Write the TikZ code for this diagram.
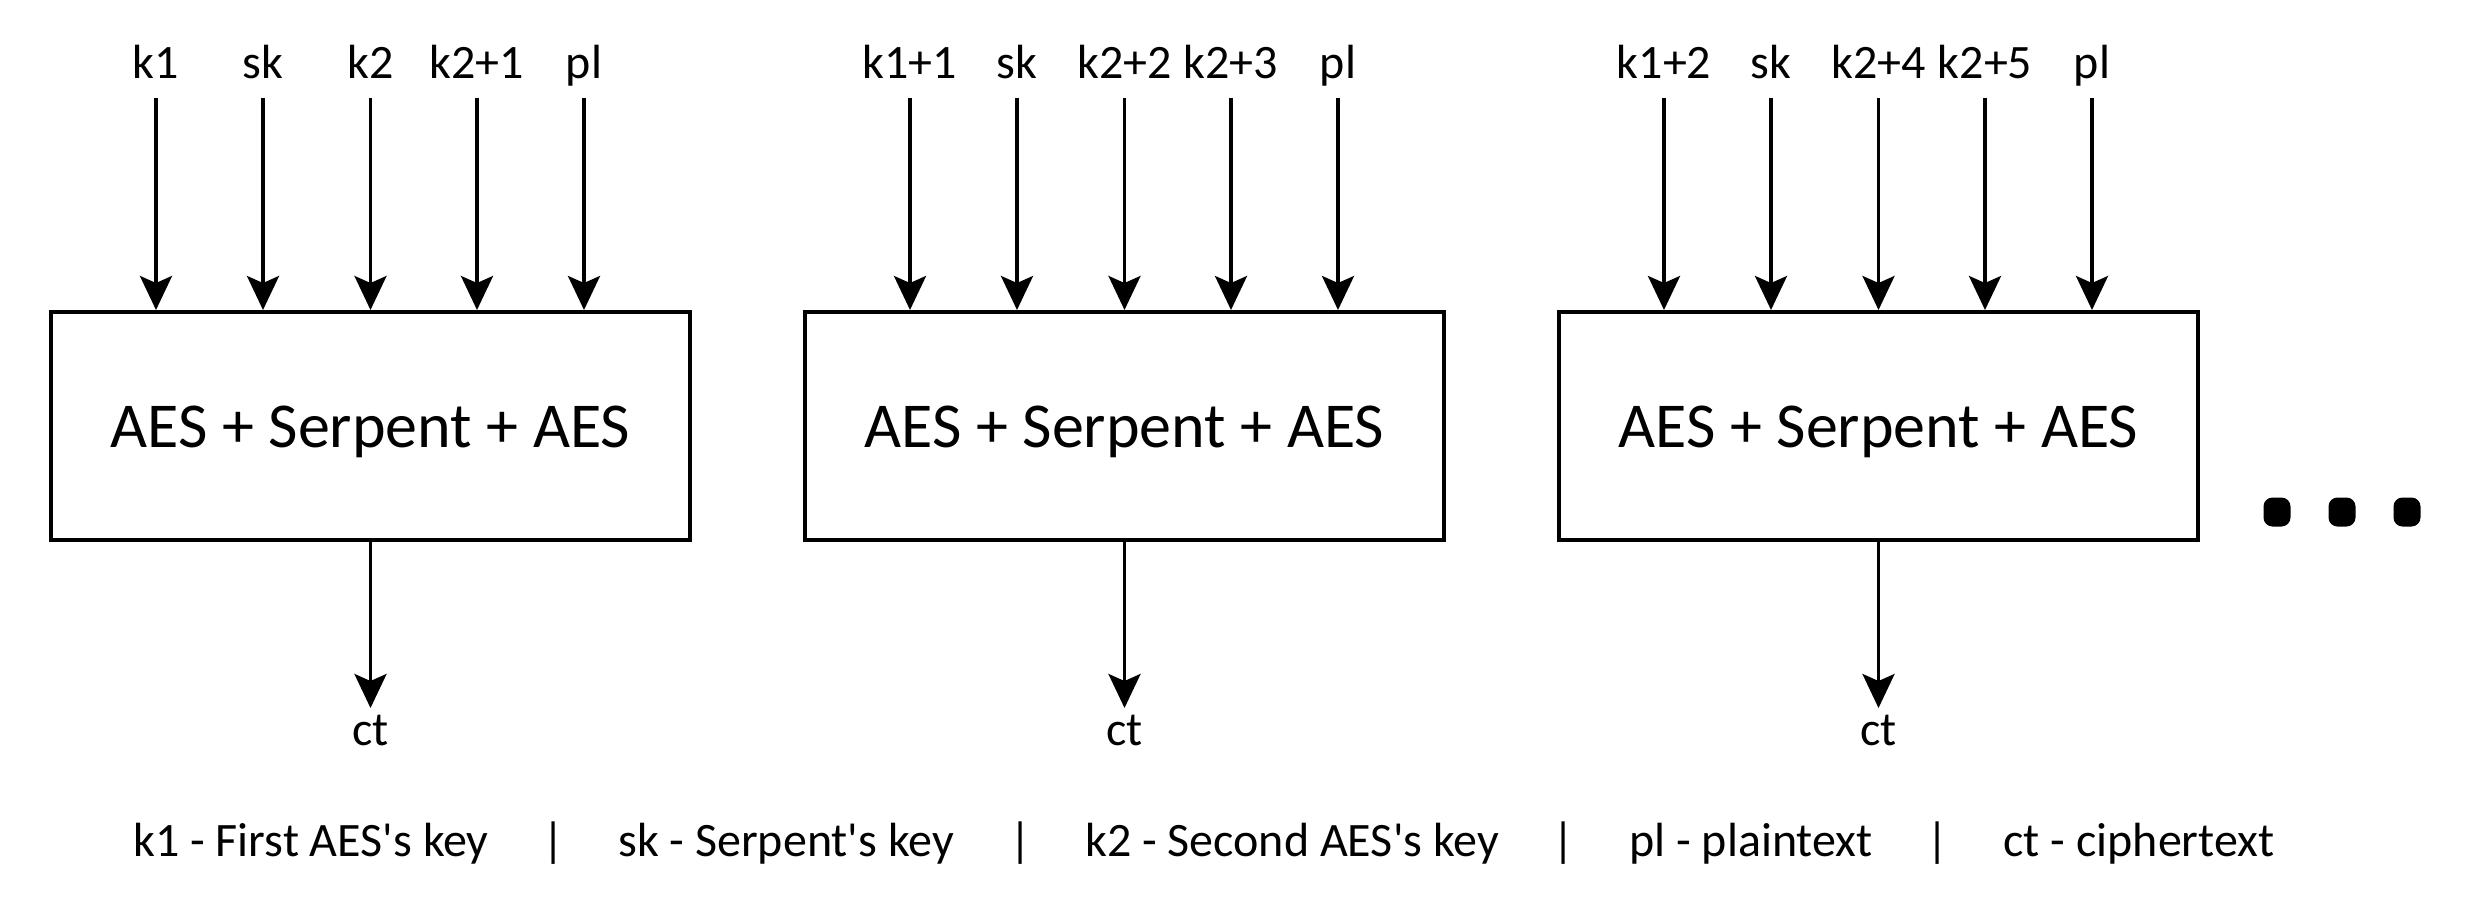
\documentclass[tikz,border=0pt]{standalone}
\usepackage{fontspec}
\setmainfont{Carlito}
\usetikzlibrary{arrows.meta}
\begin{document}
\begin{tikzpicture}[x=1pt,y=-1pt,
  blk/.style={draw, line width=4.5pt, minimum width=639pt, minimum height=228pt, outer sep=0pt, inner sep=0pt},
  lbl/.style={font=\fontsize{48}{58}\selectfont, anchor=base, inner sep=0pt},
  big/.style={font=\fontsize{64}{76}\selectfont, anchor=base, inner sep=0pt},
  arr/.style={line width=3.5pt, -{Stealth[length=34pt,width=32pt,inset=7pt]}},
  dotbox/.style={fill=black, rounded corners=9pt, minimum width=27pt, minimum height=29pt, inner sep=0pt}]
\useasboundingbox (0,0) rectangle (2482,900);
\foreach \i/\l/\la/\lc/\ld in {1/51/k1/k2/k2+1, 2/805/k1+1/k2+2/k2+3, 3/1559/k1+2/k2+4/k2+5} {
  \node[blk] (box\i) at (\l+319.5,426) {};
  \node[big] (t\i) at (\l+319.5,447) {AES + Serpent + AES};
  \foreach \j/\o/\t in {1/105/\la, 2/212/sk, 3/319.5/\lc, 4/426/\ld, 5/533/pl} {
    \node[lbl] (l\i\j) at (\l+\o,78) {\t};
    \coordinate (s\i\j) at (\l+\o,98);
    \draw[arr] (s\i\j) -- ([yshift=2pt]s\i\j |- box\i.north);
  }
  \coordinate (e\i) at (\l+319.5,708);
  \draw[arr] (box\i.south) -- (e\i);
  \node[lbl] (ct\i) at (\l+319.5,745) {ct};
}
\node[dotbox] (d1) at (2277,512) {};
\node[dotbox] (d2) at (2342,512) {};
\node[dotbox] (d3) at (2407,512) {};
\node[lbl] (lg1) at (311,856) {k1 - First AES\textquotesingle s key};
\node[lbl] (bar1) at (554,856) {|};
\node[lbl] (lg2) at (786,856) {sk - Serpent\textquotesingle s key};
\node[lbl] (bar2) at (1021,856) {|};
\node[lbl] (lg3) at (1292,856) {k2 - Second AES\textquotesingle s key};
\node[lbl] (bar3) at (1564,856) {|};
\node[lbl] (lg4) at (1751,856) {pl - plaintext};
\node[lbl] (bar4) at (1938,856) {|};
\node[lbl] (lg5) at (2139,856) {ct - ciphertext};
\end{tikzpicture}
\end{document}
